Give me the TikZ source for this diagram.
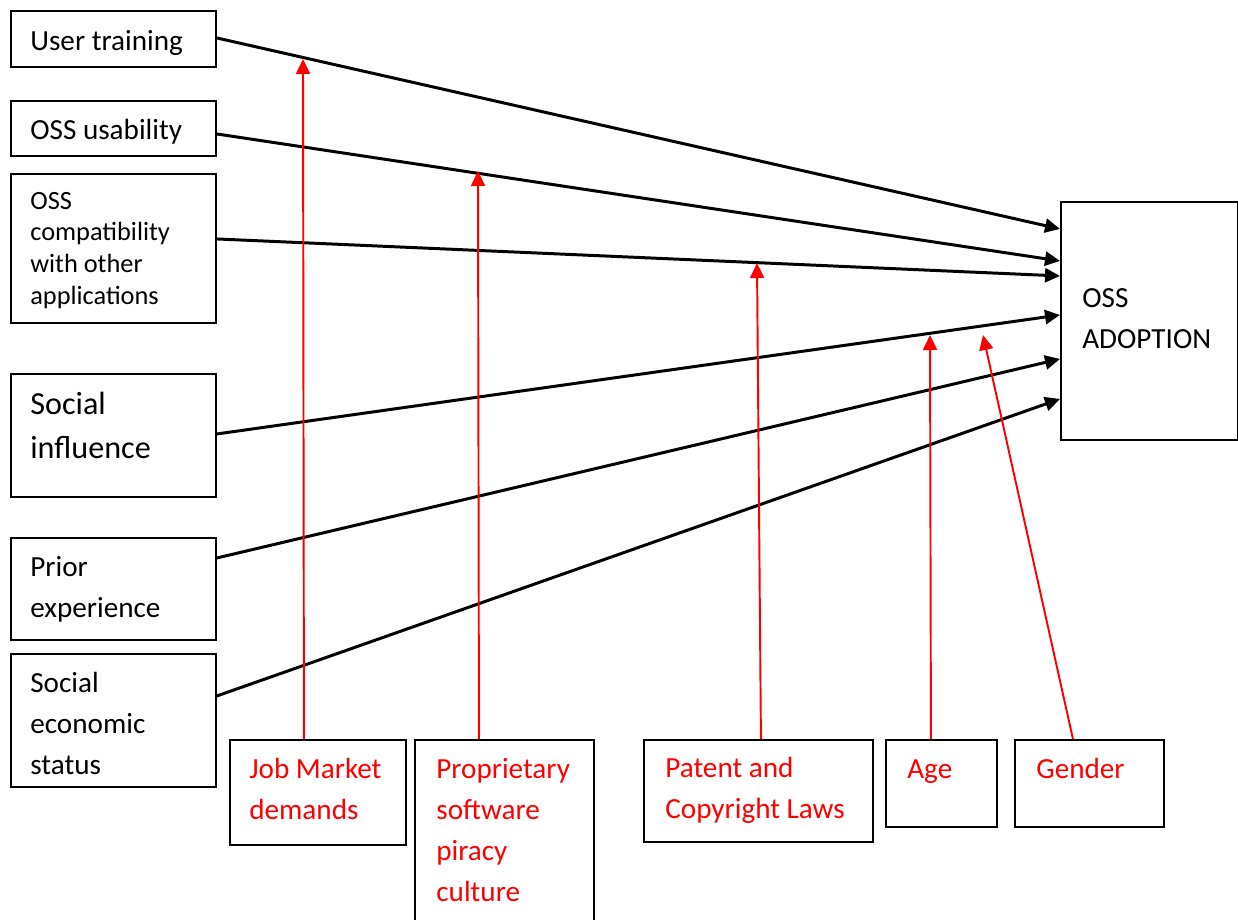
\documentclass[tikz,border=0pt]{standalone}
\usepackage{fontspec}
\setmainfont{Carlito}
\usetikzlibrary{arrows.meta}
\begin{document}
\begin{tikzpicture}[x=0.02cm,y=-0.02cm,
  box/.style={draw, line width=1.1pt, inner sep=0pt, anchor=north west},
  lbl/.style={anchor=base west, inner sep=0pt, text width=6cm, align=flush left,
    font=\fontsize{16.6pt}{23.5pt}\selectfont},
  big/.style={font=\fontsize{18.3pt}{25.5pt}\selectfont},
  small/.style={font=\fontsize{15pt}{18.1pt}\selectfont},
  redlbl/.style={lbl, text=red},
  link/.style={line width=1.7pt, -{Triangle[length=0.3cm,width=0.28cm]}},
  moderator/.style={red, line width=1.1pt, -{Triangle[length=0.3cm,width=0.28cm]}}
]
\useasboundingbox (0,0) rectangle (1238,920);

% factor boxes on the left
\node[box, minimum width=4.1cm, minimum height=1.12cm] (ut) at (10,10) {};
\node[box, minimum width=4.1cm, minimum height=1.1cm] (us) at (10,100) {};
\node[box, minimum width=4.1cm, minimum height=2.98cm] (oc) at (10,173) {};
\node[box, minimum width=4.1cm, minimum height=2.46cm] (si) at (10,373) {};
\node[box, minimum width=4.1cm, minimum height=2.04cm] (pe) at (10,537) {};
\node[box, minimum width=4.1cm, minimum height=2.66cm] (ses) at (10,653) {};

\node[lbl] (utT) at (30,50) {User training};
\node[lbl] (usT) at (30,139) {OSS usability};
\node[lbl, small] (ocT) at (30,209) {OSS\\compatibility\\with other\\applications};
\node[lbl, big] (siT) at (30,414) {Social\\influence};
\node[lbl] (peT) at (30,576) {Prior\\experience};
\node[lbl] (sesT) at (30,692) {Social\\economic\\status};

% outcome box
\node[box, minimum width=3.54cm, minimum height=4.76cm] (oss) at (1060,201) {};
\node[lbl] (ossT) at (1082,307) {OSS\\ADOPTION};

% moderator boxes at the bottom
\node[box, minimum width=3.52cm, minimum height=2.1cm] (jm) at (229,739) {};
\node[box, minimum width=3.58cm, minimum height=4.2cm] (ps) at (414,739) {};
\node[box, minimum width=4.58cm, minimum height=2.04cm] (pc) at (643,739) {};
\node[box, minimum width=2.22cm, minimum height=1.74cm] (age) at (885,739) {};
\node[box, minimum width=2.98cm, minimum height=1.74cm] (gen) at (1014,739) {};

\node[redlbl] (jmT) at (249,778) {Job Market\\demands};
\node[redlbl] (psT) at (436,778) {Proprietary\\software\\piracy\\culture};
\node[redlbl] (pcT) at (665,777) {Patent and\\Copyright Laws};
\node[redlbl] (ageT) at (907,778) {Age};
\node[redlbl] (genT) at (1036,778) {Gender};

% direct effects on adoption
\draw[link] ([yshift=0.02cm]ut.east) -- ([yshift=1.84cm]oss.west);
\draw[link] ([yshift=-0.11cm]us.east) -- ([yshift=1.2cm]oss.west);
\draw[link] ([yshift=0.19cm]oc.east) -- ([yshift=0.9cm]oss.west);
\draw[link] ([yshift=0.03cm]si.east) -- ([yshift=0.12cm]oss.west);
\draw[link] ([yshift=0.62cm]pe.east) -- ([yshift=-0.76cm]oss.west);
\draw[link] ([yshift=0.49cm]ses.east) -- ([yshift=-1.56cm]oss.west);

% moderating effects pointing at the paths
\coordinate (mJm) at (303,59);
\coordinate (mPs) at (478,171);
\coordinate (mPc) at (757,263);
\coordinate (mAge) at (930,335);
\coordinate (mGen) at (983,335);

\draw[moderator] ([xshift=-0.28cm]jm.north) -- (mJm);
\draw[moderator] ([xshift=-0.51cm]ps.north) -- (mPs);
\draw[moderator] ([xshift=0.05cm]pc.north) -- (mPc);
\draw[moderator] ([xshift=-0.21cm]age.north) -- (mAge);
\draw[moderator] ([xshift=-0.33cm]gen.north) -- (mGen);
\end{tikzpicture}
\end{document}
